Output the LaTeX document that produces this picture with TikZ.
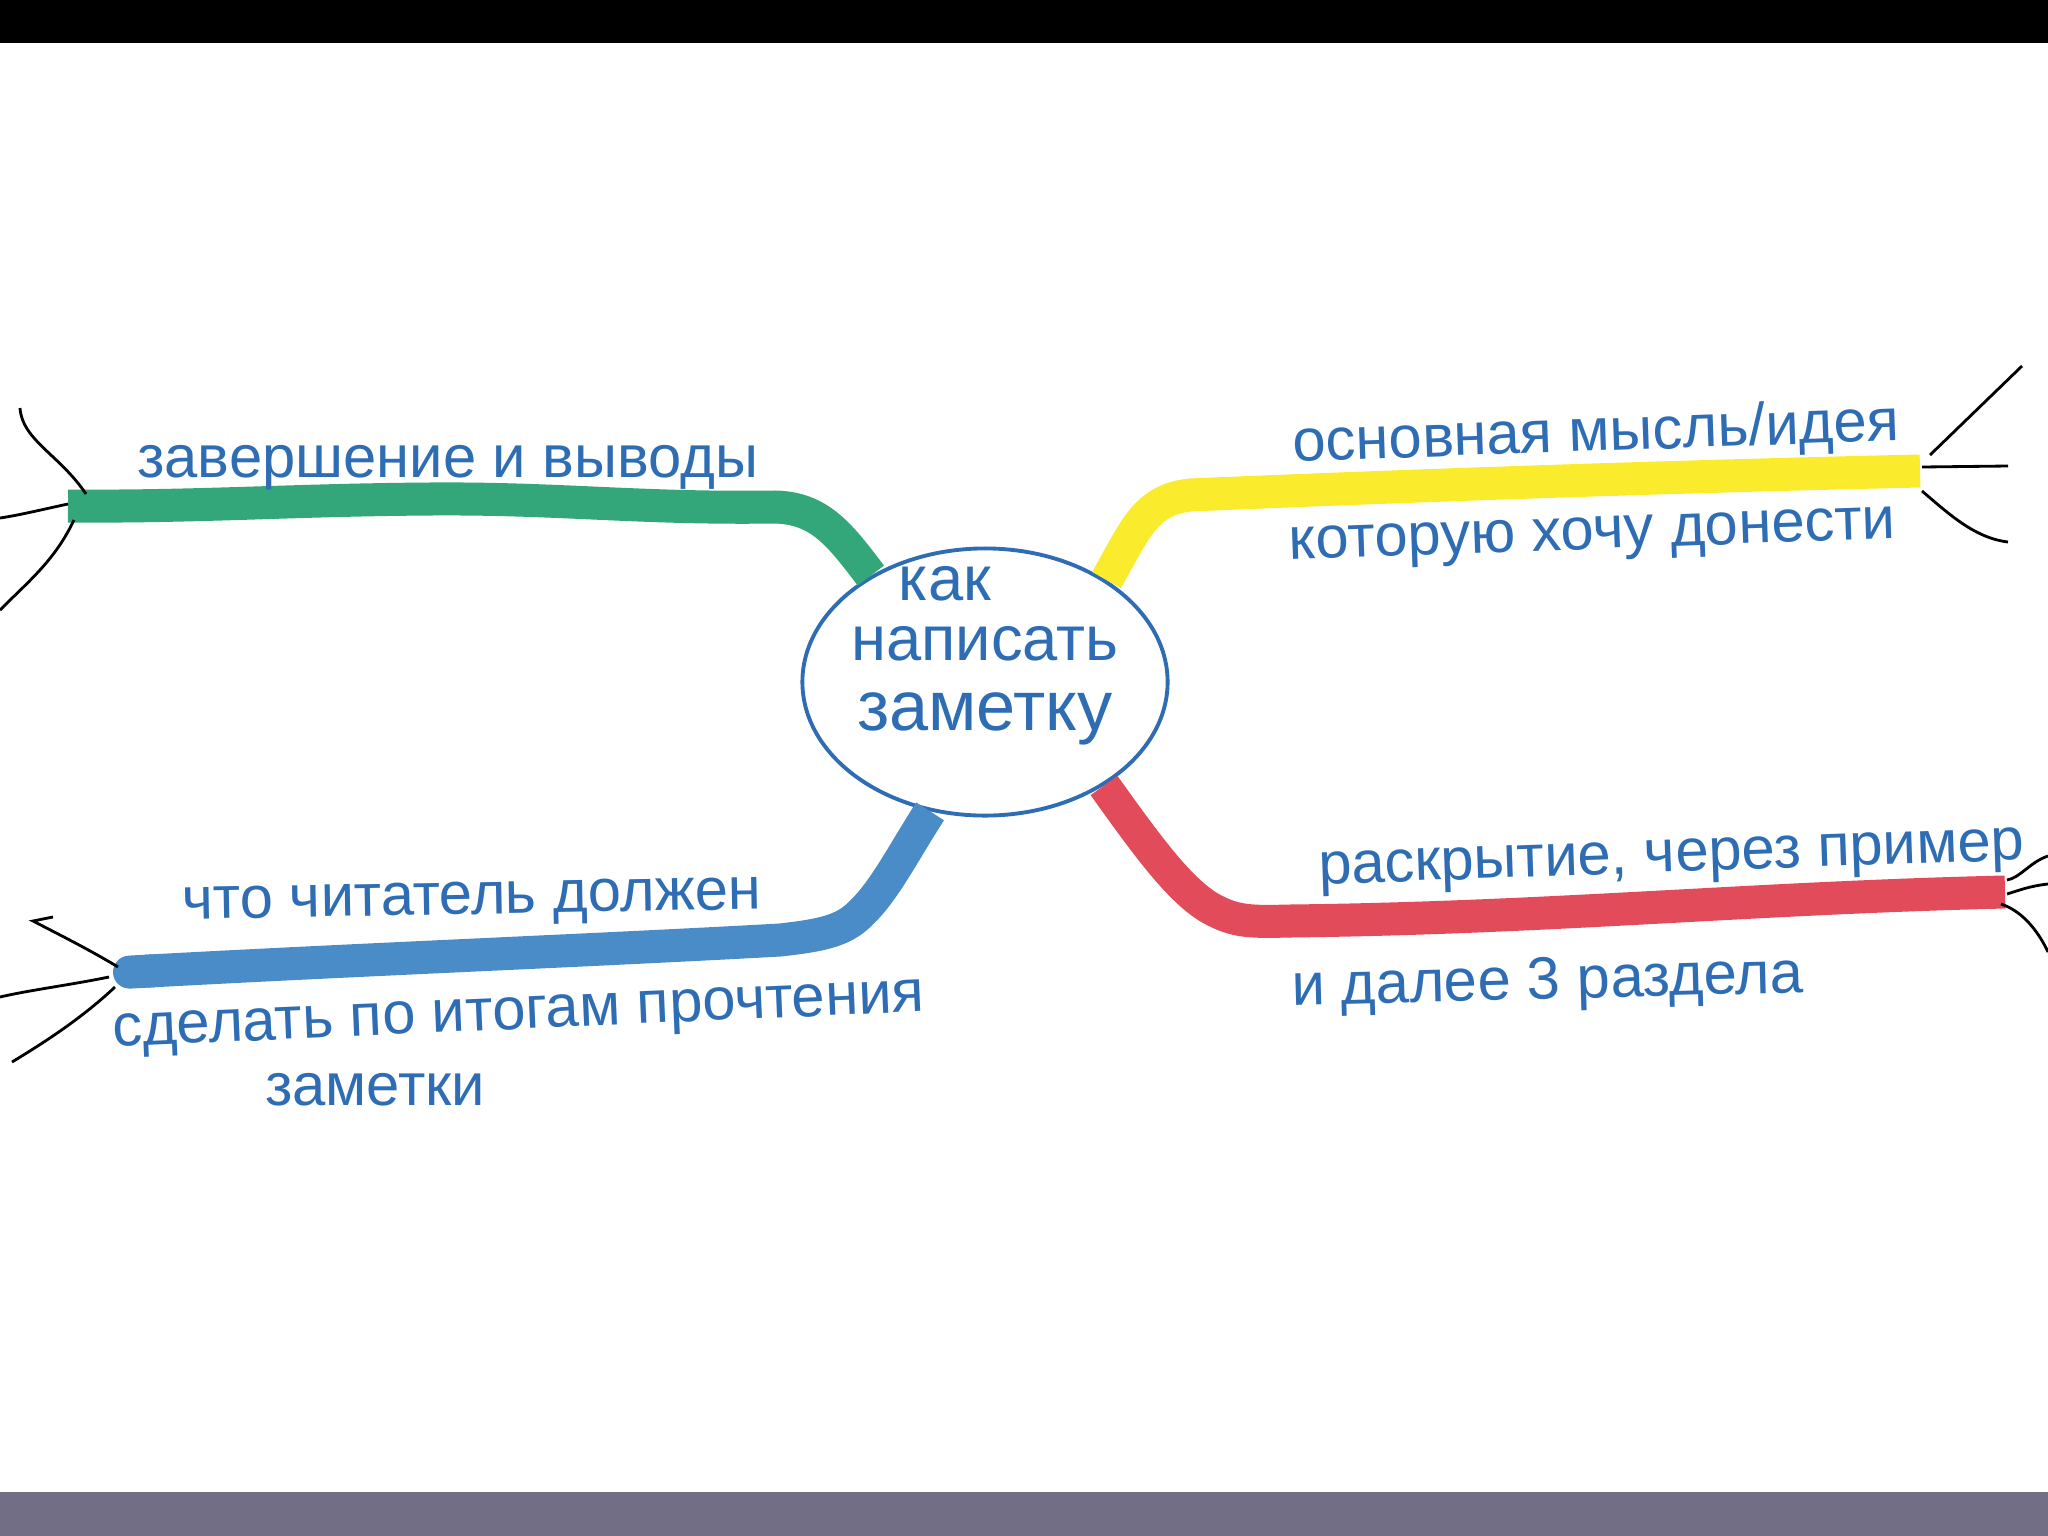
\documentclass[tikz,border=0pt]{standalone}
\usepackage{fontspec}
\setmainfont{Liberation Sans}
\usetikzlibrary{arrows.meta,shapes.geometric,calc}

\definecolor{inkblue}{HTML}{2E6DB4}
\definecolor{mapgreen}{HTML}{34A77A}
\definecolor{mapyellow}{HTML}{FAEC2C}
\definecolor{mapred}{HTML}{E14B5A}
\definecolor{mapblue}{HTML}{4A8CC8}
\definecolor{bargray}{HTML}{716E86}

\begin{document}
\begin{tikzpicture}[
    x=0.01cm, y=-0.01cm,
    topic/.style={
        ellipse,
        draw=inkblue,
        line width=1.1pt,
        minimum width=3.65cm,
        minimum height=2.67cm,
        inner sep=0pt
    },
    title/.style={
        text=inkblue,
        font=\fontsize{18}{17}\selectfont,
        align=center,
        inner sep=0pt
    },
    branch/.style={
        draw=#1,
        line width=0.33cm
    },
    branch label/.style={
        text=inkblue,
        font=\fontsize{17}{20}\selectfont,
        anchor=base,
        inner sep=0pt
    },
    twig/.style={
        draw=black,
        line width=0.8pt
    }
]
\useasboundingbox (0,0) rectangle (2048,1536);

% Screen bars
\fill[black]   (0,0)    rectangle (2048,43);
\fill[bargray] (0,1492) rectangle (2048,1536);

% Central topic
\node[topic] (topic) at (985,682) {};
\node[title] (title) at (985,656) {как\hspace*{0.8cm}\\написать\\[3pt]{\fontsize{20}{17}\selectfont заметку}};

% Branch ends
\coordinate (green end)  at (68,506);
\coordinate (yellow end) at (1920,471);
\coordinate (red end)    at (2005,892);
\coordinate (blue end)   at (113,973);

% Branches (from the topic outward)
\draw[branch=mapgreen] (topic.137) .. controls (840,535) and (820,508) .. (775,507)
    .. controls (640,509) and (560,498) .. (430,499)
    .. controls (290,500) and (200,507) .. (green end);
\draw[branch=mapyellow] (topic.40) .. controls (1135,530) and (1145,500) .. (1190,495)
    .. controls (1450,484) and (1700,476) .. (yellow end);
\draw[branch=mapred] (topic.319) .. controls (1150,850) and (1180,890) .. (1210,908)
    .. controls (1235,922) and (1250,922) .. (1290,921)
    .. controls (1550,918) and (1750,898) .. (red end);
\draw[branch=mapblue, -{Round Cap[]}] (topic.247) .. controls (905,850) and (885,890) .. (862,912)
    .. controls (845,930) and (825,935) .. (780,940)
    .. controls (600,950) and (350,960) .. (blue end);

% Branch labels
\node[branch label] (green text) at (448,477) {завершение и выводы};
\node[branch label, rotate=2] (yellow top) at (1597,451) {основная мысль/идея};
\node[branch label, rotate=2] (yellow bottom) at (1593,549) {которую хочу донести};
\node[branch label, rotate=2] (red top) at (1672,872) {раскрытие, через пример};
\node[branch label, rotate=1.5] (red bottom) at (1548,999) {и далее 3 раздела};
\node[branch label, rotate=1] (blue top) at (472,914) {что читатель должен};
\node[branch label, rotate=2.5] (blue bottom) at (519,1029) {сделать по итогам прочтения};
\node[branch label] (blue last) at (375,1105) {заметки};

% Twig tips
\coordinate (green tip a)  at (20,408);
\coordinate (green tip b)  at (0,518);
\coordinate (green tip c)  at (0,610);
\coordinate (yellow tip a) at (2022,366);
\coordinate (yellow tip b) at (2008,466);
\coordinate (yellow tip c) at (2008,542);
\coordinate (red tip a)    at (2048,856);
\coordinate (red tip b)    at (2048,884);
\coordinate (red tip c)    at (2048,952);
\coordinate (blue tip a)   at (33,921);
\coordinate (blue tip b)   at (0,997);
\coordinate (blue tip c)   at (12,1062);

% Twigs
\draw[twig] ($(green end)+(18,-12)$) .. controls (60,455) and (22,440) .. (green tip a);
\draw[twig] ($(green end)+(0,-2)$) .. controls (40,510) and (20,515) .. (green tip b);
\draw[twig] ($(green end)+(6,14)$) .. controls (55,560) and (30,580) .. (green tip c);
\draw[twig] ($(yellow end)+(10,-16)$) -- (yellow tip a);
\draw[twig] ($(yellow end)+(2,-4)$) -- (yellow tip b);
\draw[twig] ($(yellow end)+(2,20)$) .. controls (1950,515) and (1975,538) .. (yellow tip c);
\draw[twig] ($(red end)+(2,-12)$) .. controls (2020,878) and (2030,862) .. (red tip a);
\draw[twig] ($(red end)+(2,2)$) .. controls (2020,890) and (2030,886) .. (red tip b);
\draw[twig] ($(red end)+(-4,12)$) .. controls (2025,912) and (2040,935) .. (red tip c);
\draw[twig] ($(blue end)+(5,-6)$) .. controls (90,950) and (60,935) .. (blue tip a) -- ++(20,-4);
\draw[twig] ($(blue end)+(-4,4)$) .. controls (70,985) and (30,990) .. (blue tip b);
\draw[twig] ($(blue end)+(2,14)$) .. controls (80,1020) and (40,1045) .. (blue tip c);

\end{tikzpicture}
\end{document}
